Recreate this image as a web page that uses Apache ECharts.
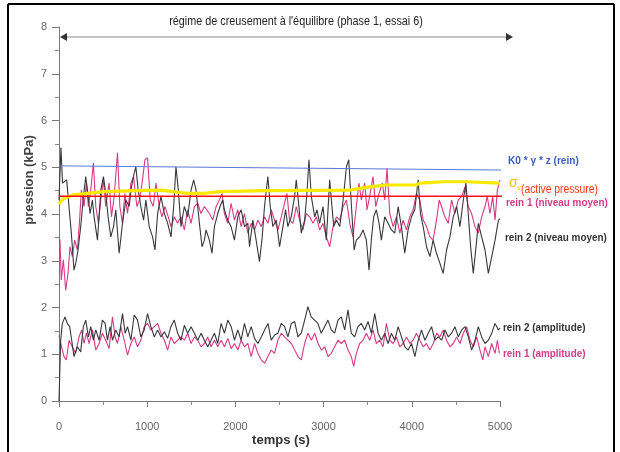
<!DOCTYPE html>
<html>
<head>
<meta charset="utf-8">
<script src="https://cdn.jsdelivr.net/npm/echarts@6/dist/echarts.min.js"></script>
<style>html,body{margin:0;padding:0;background:#fff}#c{width:620px;height:452px}</style>
</head>
<body>
<div id="c"></div>
<script>
// ---- data (time s, pression kPa) ----
const xTicks = [0, 1000, 2000, 3000, 4000, 5000];
const yTicks = [0, 1, 2, 3, 4, 5, 6, 7, 8];

const k0Line = [[0, 5.03], [5020, 4.94]];
const activePressureRed = [[0, 4.38], [5080, 4.38]];
const sigmaV = [[0,4.22],[57,4.34],[170,4.41],[512,4.48],[890,4.50],[1156,4.51],[1459,4.44],[1648,4.44],[1818,4.48],[2349,4.50],[3295,4.51],[3522,4.58],[3712,4.62],[4053,4.62],[4091,4.66],[4356,4.69],[4622,4.69],[5000,4.66]];

const rein2Moyen = [[0,4.30],[22,5.42],[40,4.66],[57,4.66],[87,4.73],[113,4.16],[140,3.59],[170,2.80],[190,2.95],[216,3.23],[246,3.73],[277,4.37],[303,4.80],[322,4.51],[352,4.01],[379,4.30],[398,3.94],[436,3.44],[474,4.51],[504,4.80],[530,4.44],[557,3.94],[587,3.51],[618,3.73],[644,4.09],[682,3.16],[720,3.80],[758,4.30],[796,4.16],[822,4.58],[852,4.87],[871,5.01],[898,4.51],[928,4.16],[959,3.87],[985,4.30],[1023,3.73],[1061,3.51],[1088,3.23],[1118,4.01],[1156,4.37],[1194,4.01],[1232,3.80],[1270,3.51],[1300,4.16],[1326,5.01],[1353,4.51],[1383,3.73],[1421,4.16],[1459,3.94],[1497,4.51],[1527,4.73],[1554,4.51],[1592,3.80],[1622,3.30],[1648,3.44],[1667,3.66],[1705,3.44],[1735,3.16],[1762,3.73],[1800,4.01],[1826,4.16],[1856,4.30],[1875,4.09],[1913,3.87],[1951,3.73],[1989,3.44],[2027,3.94],[2065,4.09],[2103,3.73],[2141,3.80],[2160,3.30],[2198,3.87],[2235,3.44],[2273,2.98],[2304,3.51],[2330,4.16],[2368,4.80],[2395,4.16],[2425,3.73],[2463,3.87],[2501,3.30],[2539,3.73],[2569,4.09],[2595,3.73],[2633,3.94],[2671,4.37],[2690,4.73],[2720,4.16],[2747,3.59],[2785,3.87],[2811,4.44],[2834,5.16],[2861,4.37],[2899,3.94],[2925,4.09],[2955,3.80],[2993,4.16],[3031,3.44],[3069,4.73],[3088,4.30],[3115,3.73],[3145,3.87],[3183,3.73],[3221,4.30],[3259,5.01],[3285,5.16],[3316,4.16],[3346,3.23],[3371,3.44],[3409,3.51],[3447,3.66],[3485,3.44],[3515,2.80],[3541,3.44],[3568,3.94],[3598,4.09],[3629,3.80],[3655,3.44],[3693,3.94],[3731,3.80],[3769,3.66],[3807,3.59],[3845,4.16],[3882,3.73],[3920,3.16],[3958,3.66],[3996,3.94],[4034,4.09],[4072,4.73],[4098,4.01],[4129,3.73],[4167,3.30],[4205,3.09],[4242,3.44],[4280,3.16],[4318,2.95],[4356,2.73],[4394,3.23],[4432,3.51],[4470,3.94],[4508,4.16],[4546,3.73],[4584,4.30],[4614,4.66],[4640,4.01],[4667,3.30],[4697,2.73],[4728,3.30],[4754,3.80],[4792,3.51],[4830,3.23],[4868,2.73],[4906,3.09],[4944,3.44],[4982,3.87],[5000,3.90]];

const rein1Moyen = [[0,3.50],[11,3.44],[26,2.59],[49,3.02],[76,2.37],[102,2.73],[125,3.30],[151,3.09],[178,3.44],[208,3.23],[231,3.80],[254,4.51],[284,4.16],[311,4.66],[333,4.16],[360,4.51],[390,5.09],[417,4.16],[447,3.80],[474,4.30],[504,4.73],[530,4.16],[568,4.66],[595,3.94],[625,4.37],[663,5.31],[690,4.16],[720,3.80],[746,4.44],[777,4.01],[815,4.66],[845,4.80],[883,4.16],[913,4.30],[947,4.73],[974,5.16],[1004,5.20],[1035,4.30],[1069,4.16],[1099,4.66],[1137,4.16],[1167,3.94],[1201,4.16],[1239,3.94],[1270,3.73],[1307,3.94],[1345,3.80],[1383,3.94],[1421,3.66],[1459,4.09],[1497,3.80],[1535,4.16],[1573,4.23],[1610,4.01],[1648,4.16],[1667,4.16],[1705,4.01],[1743,3.87],[1781,4.16],[1818,4.30],[1849,4.44],[1875,4.01],[1913,3.80],[1951,4.23],[1989,3.87],[2027,4.09],[2065,3.73],[2103,4.01],[2141,3.59],[2179,3.80],[2217,3.66],[2254,3.87],[2292,3.73],[2330,3.94],[2368,3.80],[2406,4.09],[2444,3.87],[2482,3.66],[2520,3.94],[2557,4.23],[2584,4.44],[2614,3.87],[2652,3.80],[2690,4.16],[2728,3.87],[2766,3.66],[2804,4.01],[2842,3.94],[2880,3.80],[2918,3.94],[2955,3.66],[2993,3.80],[3031,3.51],[3069,3.30],[3107,3.73],[3145,3.94],[3183,3.87],[3221,4.16],[3259,4.30],[3297,3.80],[3333,3.51],[3371,4.16],[3401,4.66],[3428,4.30],[3466,4.66],[3492,4.09],[3522,4.37],[3560,4.80],[3591,4.16],[3629,4.44],[3666,4.66],[3693,4.30],[3719,4.98],[3750,4.01],[3788,3.73],[3826,3.94],[3864,3.59],[3902,3.87],[3939,3.66],[3977,3.94],[4015,4.09],[4053,4.44],[4091,4.30],[4129,3.87],[4167,3.73],[4205,3.51],[4242,3.44],[4280,3.87],[4311,4.30],[4337,4.16],[4375,3.94],[4413,3.80],[4451,4.30],[4489,4.01],[4527,4.30],[4565,4.37],[4603,4.58],[4640,4.16],[4678,4.01],[4716,3.73],[4754,3.59],[4792,3.94],[4830,4.16],[4856,4.37],[4886,4.01],[4917,4.37],[4944,3.87],[4970,4.51],[5000,4.73]];

const rein2Ampl = [[0,0],[19,1.30],[38,1.66],[68,1.80],[94,1.66],[121,1.59],[144,1.30],[170,0.95],[208,1.16],[246,1.05],[276,1.59],[303,1.73],[333,1.37],[360,1.59],[390,1.30],[417,1.52],[455,1.30],[492,1.73],[523,1.66],[549,1.30],[580,1.59],[606,1.30],[644,1.52],[682,1.37],[720,1.87],[750,1.45],[777,1.59],[815,1.30],[853,1.84],[890,1.73],[928,1.37],[966,1.52],[1004,1.87],[1042,1.59],[1080,1.37],[1118,1.52],[1156,1.37],[1194,1.48],[1232,1.34],[1269,1.59],[1307,1.73],[1345,1.45],[1383,1.30],[1421,1.62],[1459,1.45],[1497,1.59],[1535,1.45],[1573,1.30],[1611,1.45],[1648,1.30],[1686,1.16],[1724,1.30],[1762,1.45],[1800,1.23],[1838,1.66],[1876,1.45],[1914,1.73],[1952,1.59],[1990,1.30],[2027,1.52],[2065,1.30],[2103,1.66],[2141,1.37],[2179,1.59],[2217,1.34],[2255,1.23],[2293,1.37],[2331,1.52],[2369,1.66],[2406,1.30],[2444,1.41],[2482,1.45],[2520,1.66],[2558,1.59],[2596,1.37],[2634,1.66],[2672,1.70],[2709,1.37],[2747,1.45],[2785,1.73],[2822,2.02],[2860,1.80],[2898,1.73],[2935,1.66],[2973,1.45],[3011,1.59],[3049,1.73],[3087,1.52],[3125,1.45],[3163,1.73],[3201,1.80],[3239,1.52],[3277,1.95],[3314,1.45],[3352,1.37],[3390,1.59],[3428,1.66],[3466,1.52],[3504,1.70],[3542,1.45],[3580,1.87],[3618,1.45],[3656,1.30],[3693,1.45],[3731,1.23],[3769,1.45],[3807,1.30],[3845,1.59],[3883,1.37],[3921,1.16],[3959,1.09],[3997,1.23],[4035,0.95],[4073,1.30],[4110,1.52],[4148,1.30],[4186,1.45],[4224,1.59],[4262,1.30],[4300,1.37],[4338,1.30],[4376,1.52],[4414,1.37],[4451,1.45],[4489,1.59],[4527,1.37],[4565,1.52],[4603,1.59],[4641,1.37],[4679,1.09],[4717,1.30],[4754,1.59],[4792,1.37],[4830,1.23],[4868,1.30],[4906,1.45],[4944,1.66],[4982,1.52],[5000,1.56]];

const rein1Ampl = [[0,1.40],[19,1.23],[57,0.95],[83,0.88],[114,1.30],[151,1.16],[189,1.02],[227,1.37],[257,1.52],[284,1.23],[310,1.45],[341,1.23],[379,1.52],[417,1.09],[455,1.23],[492,1.45],[530,1.30],[568,1.12],[606,1.80],[636,1.37],[663,1.23],[701,1.59],[739,1.30],[777,0.98],[815,1.23],[853,1.37],[890,1.16],[928,1.30],[966,1.59],[1004,1.66],[1042,1.52],[1080,1.59],[1118,1.66],[1156,1.45],[1194,1.30],[1232,1.09],[1269,1.37],[1307,1.23],[1345,1.30],[1383,1.37],[1421,1.30],[1459,1.45],[1497,1.23],[1535,1.37],[1573,1.30],[1611,1.16],[1648,1.23],[1686,1.37],[1724,1.16],[1762,1.30],[1800,1.16],[1838,1.30],[1876,1.16],[1914,1.34],[1952,1.12],[1990,1.23],[2027,1.09],[2065,1.30],[2103,1.16],[2141,1.23],[2179,0.95],[2217,1.23],[2255,1.02],[2293,0.88],[2331,0.81],[2369,0.95],[2406,1.09],[2444,1.02],[2482,1.30],[2520,1.45],[2558,1.37],[2596,1.30],[2634,1.23],[2672,1.09],[2709,0.95],[2747,0.88],[2785,1.23],[2823,1.45],[2861,1.30],[2899,1.45],[2937,1.23],[2975,1.09],[3013,1.16],[3051,0.95],[3087,1.02],[3125,1.16],[3163,1.30],[3201,1.23],[3239,1.30],[3277,1.09],[3314,0.95],[3341,0.74],[3371,1.02],[3409,1.23],[3447,1.30],[3485,1.45],[3523,1.30],[3560,1.52],[3598,1.23],[3636,1.30],[3674,1.16],[3712,1.66],[3750,1.30],[3788,1.23],[3826,1.37],[3864,1.16],[3902,1.23],[3940,1.37],[3978,1.23],[4016,1.30],[4053,1.45],[4091,1.30],[4129,1.16],[4167,1.23],[4205,1.09],[4243,1.23],[4281,1.45],[4318,1.37],[4356,1.52],[4394,1.30],[4432,1.16],[4470,1.23],[4508,1.37],[4546,1.23],[4584,1.45],[4622,1.59],[4660,1.30],[4698,1.16],[4736,1.37],[4773,1.09],[4804,0.88],[4830,1.16],[4868,0.95],[4906,1.23],[4944,1.02],[4971,1.30],[4993,1.02]];

const titleText = "régime de creusement à l'équilibre (phase 1, essai 6)";
const yTitle = 'pression (kPa)';
const xTitle = 'temps (s)';
const labels = {
  k0: 'K0 * γ * z (rein)',
  active: '(active pressure)',
  r1m: 'rein 1 (niveau moyen)',
  r2m: 'rein 2 (niveau moyen)',
  r2a: 'rein 2 (amplitude)',
  r1a: 'rein 1 (amplitude)'
};

const MAG = '#d63a88', BLK = '#383838', FONT = '"Liberation Sans", Arial, sans-serif';

const chart = echarts.init(document.getElementById('c'), null, {renderer: 'canvas'});

function noisy(name, data, color, z) {
  return {name, type: 'line', data, showSymbol: false, symbol: 'none', z,
    lineStyle: {color, width: 1.1}, animation: false};
}
function txt(x, y, text, color, size, bold, sx, center) {
  const el = {type: 'text', x, y, z: 100,
    style: {text, fill: color, font: (bold ? 'bold ' : '') + size + 'px ' + FONT,
      align: center ? 'center' : 'left', verticalAlign: 'middle',
      textAlign: center ? 'center' : 'left', textVerticalAlign: 'middle'}};
  if (sx) { el.scaleX = sx; }
  return el;
}

const option = {
  backgroundColor: '#fff',
  animation: false,
  textStyle: {fontFamily: FONT},
  grid: {left: 59, right: 120, top: 27, bottom: 51},
  xAxis: {
    type: 'value', min: xTicks[0], max: xTicks[xTicks.length - 1], interval: 1000,
    axisLine: {lineStyle: {color: '#777'}},
    axisTick: {length: 6, lineStyle: {color: '#777'}},
    minorTick: {show: true, splitNumber: 2, length: 4, lineStyle: {color: '#888'}},
    axisLabel: {color: '#666', fontSize: 11, margin: 20, fontFamily: FONT, formatter: v => String(v)},
    splitLine: {show: false}
  },
  yAxis: {
    type: 'value', min: yTicks[0], max: yTicks[yTicks.length - 1], interval: 1,
    axisLine: {show: true, lineStyle: {color: '#777'}},
    axisTick: {show: true, length: 7, lineStyle: {color: '#777'}},
    minorTick: {show: true, splitNumber: 2, length: 4, lineStyle: {color: '#888'}},
    axisLabel: {color: '#666', fontSize: 11, margin: 12, fontFamily: FONT},
    splitLine: {show: false}
  },
  series: [
    noisy('rein 1 (niveau moyen)', rein1Moyen, MAG, 2),
    noisy('rein 2 (niveau moyen)', rein2Moyen, BLK, 3),
    noisy('rein 1 (amplitude)', rein1Ampl, MAG, 2),
    noisy('rein 2 (amplitude)', rein2Ampl, BLK, 3),
    {name: 'sigma', type: 'line', data: sigmaV, showSymbol: false, symbol: 'none', z: 5,
      lineStyle: {color: '#f9e800', width: 3.2}},
    {name: 'active', type: 'line', data: activePressureRed, showSymbol: false, symbol: 'none', clip: false, z: 6,
      lineStyle: {color: '#ff1010', width: 1.3}},
    {name: 'k0', type: 'line', data: k0Line, showSymbol: false, symbol: 'none', clip: false, z: 6,
      lineStyle: {color: '#5b78d6', width: 1}}
  ],
  graphic: [
    // frame
    {type: 'line', shape: {x1: 8, y1: 4, x2: 614, y2: 4}, style: {stroke: '#000', lineWidth: 2}, z: 100},
    {type: 'line', shape: {x1: 8, y1: 4, x2: 8, y2: 452}, style: {stroke: '#000', lineWidth: 2}, z: 100},
    {type: 'line', shape: {x1: 614, y1: 4, x2: 614, y2: 452}, style: {stroke: '#000', lineWidth: 2}, z: 100},
    // title arrow
    {type: 'line', shape: {x1: 64, y1: 37, x2: 508, y2: 37}, style: {stroke: '#888', lineWidth: 1.2}, z: 100},
    {type: 'polygon', shape: {points: [[60, 37], [67, 33], [67, 41]]}, style: {fill: '#333'}, z: 100},
    {type: 'polygon', shape: {points: [[513, 37], [506, 33], [506, 41]]}, style: {fill: '#333'}, z: 100},
    txt(296, 22, titleText, '#222', 12, false, 0.9, true),
    // axis titles
    {type: 'text', x: 29, y: 180, rotation: Math.PI / 2, z: 100,
      style: {text: yTitle, fill: '#444', font: 'bold 13px ' + FONT, align: 'center', verticalAlign: 'middle', textAlign: 'center', textVerticalAlign: 'middle'}},
    txt(281, 440, xTitle, '#333', 13, true, 0, true),
    // right labels
    txt(508, 161, labels.k0, '#3a5bc4', 11, true, 0.92),
    txt(509, 183, 'σ', '#f2c200', 14, false),
    txt(517, 188, 'v', '#f2c200', 8, false),
    txt(521, 190, labels.active, '#ff3a10', 12, false, 0.86),
    txt(506, 203, labels.r1m, MAG, 11, true, 0.9),
    txt(505, 238, labels.r2m, '#333', 11, true, 0.9),
    txt(503, 328, labels.r2a, '#333', 11, true, 0.9),
    txt(503, 354, labels.r1a, MAG, 11, true, 0.9)
  ]
};
chart.setOption(option);
</script>
</body>
</html>
